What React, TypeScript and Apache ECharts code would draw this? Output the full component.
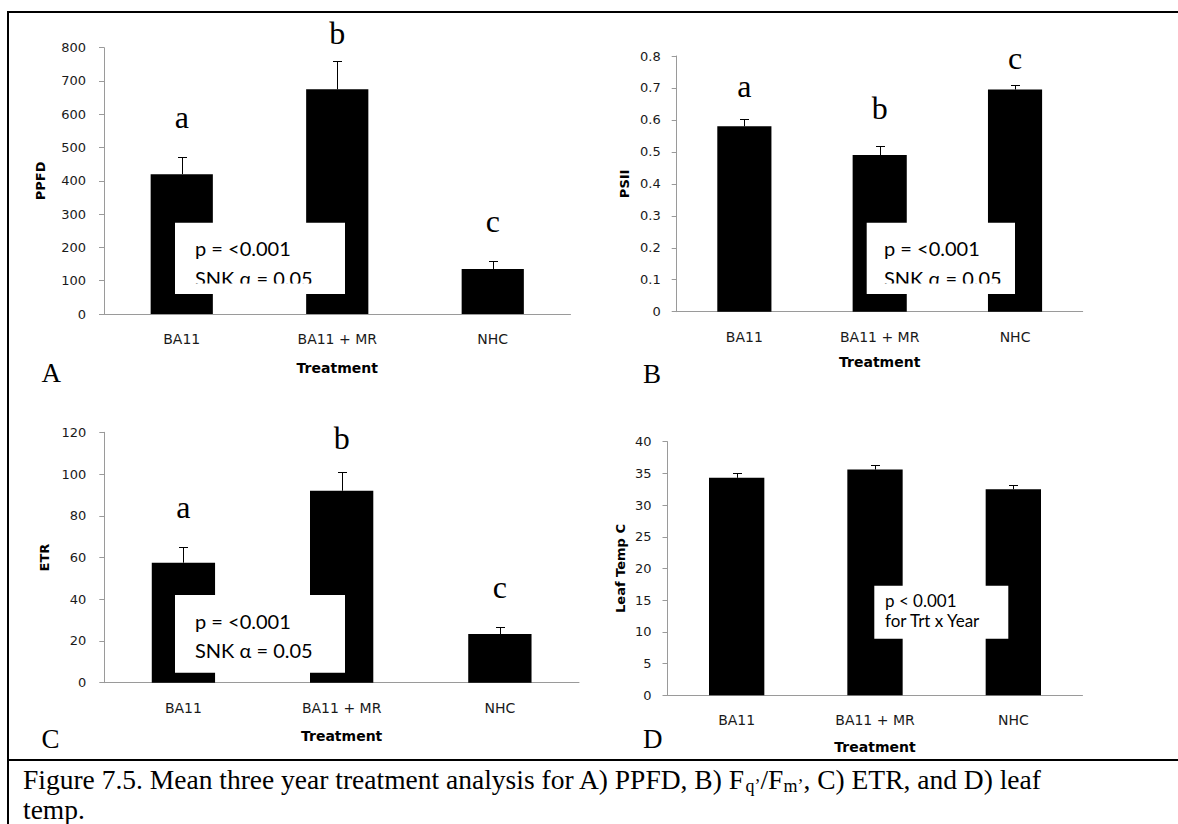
import React, { useEffect, useRef } from 'react';
import * as echarts from 'echarts';

// ---------- data ----------
const categories = ['BA11', 'BA11 + MR', 'NHC'];

const ppfdMean = [420, 675, 135];
const ppfdErr = [53, 84, 24];
const ppfdLetters = ['a', 'b', 'c'];

const psiiMean = [0.58, 0.49, 0.695];
const psiiErr = [0.023, 0.029, 0.013];
const psiiLetters = ['a', 'b', 'c'];

const etrMean = [57.5, 92, 23.3];
const etrErr = [7.4, 9, 3.2];
const etrLetters = ['a', 'b', 'c'];

const leafTempMean = [34.3, 35.6, 32.5];
const leafTempErr = [0.7, 0.7, 0.6];

const xAxisName = 'Treatment';
const panelLabels = ['A', 'B', 'C', 'D'];
const caption1a = 'Figure 7.5. Mean three year treatment analysis for A) PPFD, B) F';
const caption2 = 'temp.';

// ---------- layout ----------
const AXIS_COLOR = '#9a9a9a';
const TICK_TEXT = '#1a1a1a';
const SANS = "'DejaVu Sans', sans-serif";
const SERIF = "'Liberation Serif', 'Times New Roman', serif";
const BOX_FONT = "Lato, 'Open Sans', sans-serif";

const panels = [
  {
    yName: 'PPFD', mean: ppfdMean, err: ppfdErr, letters: ppfdLetters,
    max: 800, interval: 100,
    grid: { left: 104, top: 47.7, width: 466.5, height: 266.3 },
    yNameGap: 57, labelMargin: 18, xNameGap: 46.5, lift: [28.7, 17.4, 29],
  },
  {
    yName: 'PSII', mean: psiiMean, err: psiiErr, letters: psiiLetters,
    max: 0.8, interval: 0.1,
    grid: { left: 676.7, top: 56, width: 406, height: 255.7 },
    yNameGap: 46, labelMargin: 16, xNameGap: 43, lift: [22.3, 27, 17],
  },
  {
    yName: 'ETR', mean: etrMean, err: etrErr, letters: etrLetters,
    max: 120, interval: 20,
    grid: { left: 104.3, top: 432.3, width: 474.7, height: 250.4 },
    yNameGap: 53.6, labelMargin: 18, xNameGap: 46, lift: [29, 22.7, 30],
  },
  {
    yName: 'Leaf Temp C', mean: leafTempMean, err: leafTempErr, letters: null as string[] | null,
    max: 40, interval: 5,
    grid: { left: 667.5, top: 441.7, width: 415, height: 253.6 },
    yNameGap: 40.2, labelMargin: 16, xNameGap: 45, lift: [0, 0, 0],
  },
];

function textAt(text: string, x: number, baseline: number, fontSize: number, fontFamily: string, align = 'left', extra: any = {}) {
  const k = fontFamily.indexOf('Serif') >= 0 ? 0.3375 : 0.36;
  return {
    type: 'text',
    z: 100,
    x,
    y: baseline - k * fontSize,
    style: {
      text,
      fontSize,
      fontFamily,
      fill: '#000',
      align,
      textAlign: align,
      verticalAlign: 'middle',
      textVerticalAlign: 'middle',
      ...extra,
    },
  };
}

function rect(x: number, y: number, w: number, h: number, fill = '#fff') {
  return { type: 'rect', z: 100, shape: { x, y, width: w, height: h }, style: { fill, stroke: null } };
}

function hline(x1: number, x2: number, y: number, w = 2) {
  return { type: 'line', z: 100, shape: { x1, y1: y, x2, y2: y }, style: { stroke: '#000', lineWidth: w } };
}

function vline(x: number, y1: number, y2: number, w = 2) {
  return { type: 'line', z: 100, shape: { x1: x, y1, x2: x, y2 }, style: { stroke: '#000', lineWidth: w } };
}

function buildOption() {
  const grid = panels.map((p) => ({ ...p.grid, containLabel: false }));
  const xAxis = panels.map((p, k) => ({
    type: 'category',
    gridIndex: k,
    data: categories,
    name: xAxisName,
    nameLocation: 'middle',
    nameGap: p.xNameGap,
    nameTextStyle: { fontFamily: SANS, fontWeight: 'bold', fontSize: 14, color: '#000' },
    axisLine: { show: true, lineStyle: { color: AXIS_COLOR, width: 1 } },
    axisTick: { show: false },
    axisLabel: { margin: 18, fontSize: 14, fontFamily: SANS, color: TICK_TEXT, interval: 0 },
    splitLine: { show: false },
  }));
  const yAxis = panels.map((p, k) => ({
    type: 'value',
    gridIndex: k,
    min: 0,
    max: p.max,
    interval: p.interval,
    name: p.yName,
    nameLocation: 'middle',
    nameRotate: 90,
    nameGap: p.yNameGap,
    nameTextStyle: { fontFamily: SANS, fontWeight: 'bold', fontSize: 13, color: '#000' },
    axisLine: { show: true, lineStyle: { color: AXIS_COLOR, width: 1 } },
    axisTick: { show: true, length: 5, lineStyle: { color: AXIS_COLOR } },
    axisLabel: { margin: p.labelMargin, fontSize: 13, fontFamily: SANS, color: TICK_TEXT },
    splitLine: { show: false },
  }));

  const series: any[] = [];
  panels.forEach((p, k) => {
    series.push({
      type: 'bar',
      xAxisIndex: k,
      yAxisIndex: k,
      data: p.mean,
      barWidth: '40%',
      itemStyle: { color: '#000' },
      z: 2,
    });
    series.push({
      type: 'custom',
      xAxisIndex: k,
      yAxisIndex: k,
      z: 3,
      data: p.mean.map((m, i) => [i, m, p.err[i]]),
      encode: { x: 0, y: 1 },
      renderItem: (params: any, api: any) => {
        const i = api.value(0);
        const m = api.value(1);
        const e = api.value(2);
        const p0 = api.coord([i, m]);
        const p1 = api.coord([i, m + e]);
        const cx = Math.round(p0[0]) + 0.5;
        const ty = Math.round(p1[1]) + 0.5;
        const hw = 4.5;
        return {
          type: 'group',
          children: [
            { type: 'line', shape: { x1: cx, y1: p0[1], x2: cx, y2: ty }, style: { stroke: '#000', lineWidth: 1 } },
            { type: 'line', shape: { x1: cx - hw, y1: ty, x2: cx + hw, y2: ty }, style: { stroke: '#000', lineWidth: 1 } },
          ],
        };
      },
    });
    if (p.letters) {
      const letters = p.letters;
      const lift = p.lift;
      series.push({
        type: 'custom',
        xAxisIndex: k,
        yAxisIndex: k,
        z: 4,
        data: p.mean.map((m, i) => [i, m + p.err[i]]),
        encode: { x: 0, y: 1 },
        renderItem: (params: any, api: any) => {
          const i = api.value(0);
          const top = api.value(1);
          const pt = api.coord([i, top]);
          const fs = 32;
          return {
            type: 'text',
            x: pt[0],
            y: pt[1] - lift[params.dataIndex] - 0.3375 * fs,
            style: {
              text: letters[params.dataIndex],
              fontSize: fs,
              fontFamily: SERIF,
              fill: '#000',
              align: 'center',
              textAlign: 'center',
              verticalAlign: 'middle',
              textVerticalAlign: 'middle',
            },
          };
        },
      });
    }
  });

  const graphic: any[] = [
    // frame
    hline(7, 1178, 12),
    vline(8, 11, 824),
    hline(7, 1178, 760),
    // panel labels
    textAt(panelLabels[0], 41.5, 382.3, 27, SERIF),
    textAt(panelLabels[1], 643, 382.7, 27, SERIF),
    textAt(panelLabels[2], 41.5, 748.3, 27, SERIF),
    textAt(panelLabels[3], 643, 748.3, 27, SERIF),
    // box A
    rect(175, 222.7, 170, 71.3),
    textAt('p = <0.001', 195, 255, 20, BOX_FONT),
    textAt('SNK α = 0.05', 195, 285.5, 20, BOX_FONT),
    rect(176, 283.5, 168, 10.5),
    // box B
    rect(866.7, 222.7, 148.3, 71.3),
    textAt('p = <0.001', 884, 255, 20, BOX_FONT),
    textAt('SNK α = 0.05', 884, 285.5, 20, BOX_FONT),
    rect(867.7, 283.5, 146.3, 10.5),
    // box C
    rect(175, 595, 170, 77.7),
    textAt('p = <0.001', 195, 627.7, 20, BOX_FONT),
    textAt('SNK α = 0.05', 195, 657.4, 20, BOX_FONT),
    // box D
    rect(874.3, 585.7, 134, 53),
    textAt('p < 0.001', 885, 606.8, 17, BOX_FONT),
    textAt('for Trt x Year', 885, 626.8, 17, BOX_FONT),
    // caption
    {
      type: 'text',
      z: 100,
      x: 23,
      y: 763.5,
      style: {
        text: caption1a + '{s|q’}/F{s|m’}, C) ETR, and D) leaf',
        fontSize: 27.5,
        fontFamily: SERIF,
        fill: '#000',
        lineHeight: 31,
        align: 'left',
        textAlign: 'left',
        verticalAlign: 'top',
        textVerticalAlign: 'top',
        rich: {
          s: { fontSize: 18, fontFamily: SERIF, fill: '#000', lineHeight: 18, verticalAlign: 'bottom' },
        },
      },
    },
    textAt(caption2, 23, 819, 27.5, SERIF),
  ];

  return {
    animation: false,
    backgroundColor: '#fff',
    grid,
    xAxis,
    yAxis,
    series,
    graphic,
  };
}

export default function App() {
  const ref = useRef<HTMLDivElement>(null);
  useEffect(() => {
    if (!ref.current) return;
    const chart = echarts.init(ref.current, null, { renderer: 'svg' });
    chart.setOption(buildOption() as any);
    return () => chart.dispose();
  }, []);
  return (
    <div
      ref={ref}
      style={{ position: 'absolute', left: 0, top: 0, width: 1178, height: 824, background: '#fff' }}
    />
  );
}
